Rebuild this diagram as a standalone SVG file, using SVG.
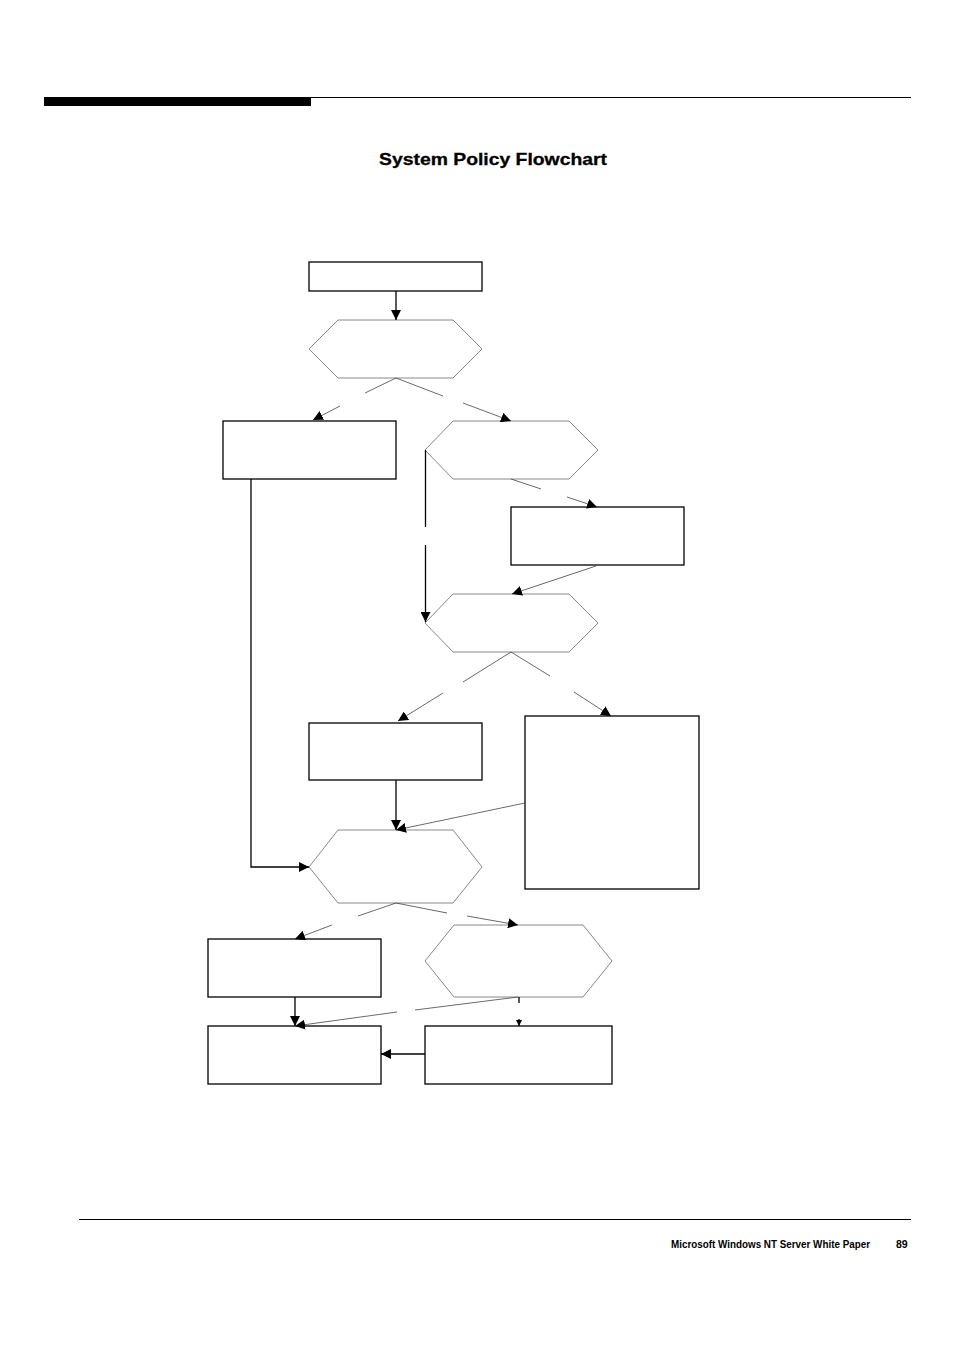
<svg xmlns="http://www.w3.org/2000/svg" width="954" height="1351" viewBox="0 0 954 1351">
<style>
.box{fill:#fff;stroke:#000;stroke-width:1.3}
.hex{fill:#fff;stroke:#888;stroke-width:1}
.c{fill:none;stroke:#000;stroke-width:1.3}
.d{fill:none;stroke:#444;stroke-width:0.8}
text{font-family:"Liberation Sans",Arial,sans-serif;font-weight:bold}
</style>
<defs>
<marker id="a" viewBox="0 0 10 10" refX="10" refY="5" markerWidth="10" markerHeight="10" markerUnits="userSpaceOnUse" orient="auto"><path d="M0,0L10,5L0,10z" fill="#000"/></marker>
<marker id="s" viewBox="0 0 10 10" refX="10" refY="5" markerWidth="6" markerHeight="6" markerUnits="userSpaceOnUse" orient="auto"><path d="M0,0L10,5L0,10z" fill="#000"/></marker>
</defs>
<rect x="44" y="97" width="267" height="9" fill="#000"/>
<line x1="311" y1="97.5" x2="911" y2="97.5" stroke="#000" stroke-width="1"/>
<text x="379" y="165" font-size="16.5" textLength="228" lengthAdjust="spacingAndGlyphs" stroke="#000" stroke-width="0.3">System Policy Flowchart</text>
<line x1="79" y1="1219.5" x2="911" y2="1219.5" stroke="#000" stroke-width="1"/>
<text x="870" y="1248" font-size="10.5" text-anchor="end" textLength="199" lengthAdjust="spacingAndGlyphs">Microsoft Windows NT Server White Paper</text>
<text x="896" y="1248" font-size="10.5">89</text>
<g id="n1"><rect class="box" x="309" y="262" width="173" height="29"/></g>
<g id="n2"><polygon class="hex" points="338,320 453,320 482,349 453,378 338,378 309,349"/></g>
<g id="n3"><rect class="box" x="223" y="421" width="173" height="58"/></g>
<g id="n4"><polygon class="hex" points="453,421 569,421 598,450 569,479 453,479 425,450"/></g>
<g id="n5"><rect class="box" x="511" y="507" width="173" height="58"/></g>
<g id="n6"><polygon class="hex" points="453,594 569,594 598,623 569,652 453,652 425,623"/></g>
<g id="n7"><rect class="box" x="309" y="723" width="173" height="57"/></g>
<g id="n8"><rect class="box" x="525" y="716" width="174" height="173"/></g>
<g id="n9"><polygon class="hex" points="338,830 453,830 482,867 453,903 338,903 309,867"/></g>
<g id="n10"><rect class="box" x="208" y="939" width="173" height="58"/></g>
<g id="n11"><polygon class="hex" points="454,925 583,925 612,961 583,997 454,997 425,961"/></g>
<g id="n12"><rect class="box" x="208" y="1026" width="173" height="58"/></g>
<g id="n13"><rect class="box" x="425" y="1026" width="187" height="58"/></g>
<g id="connectors">
<line class="c" x1="396" y1="291" x2="396" y2="320" marker-end="url(#a)"/>
<polyline class="d" points="365,393 396,378 443,396"/>
<line class="d" x1="340" y1="406" x2="313" y2="420" marker-end="url(#a)"/>
<line class="d" x1="463" y1="403" x2="511" y2="421" marker-end="url(#a)"/>
<line class="c" x1="425.5" y1="450" x2="425.5" y2="527"/>
<line class="c" x1="425.5" y1="545" x2="425.5" y2="622" marker-end="url(#a)"/>
<line class="d" x1="511" y1="479" x2="541" y2="489"/>
<line class="d" x1="567" y1="497" x2="597" y2="507" marker-end="url(#a)"/>
<line class="d" x1="596" y1="566" x2="512" y2="594" marker-end="url(#a)"/>
<polyline class="d" points="463,682 511,652 550,676"/>
<line class="d" x1="443" y1="693" x2="398" y2="721" marker-end="url(#a)"/>
<line class="d" x1="574" y1="692" x2="611" y2="716" marker-end="url(#a)"/>
<line class="c" x1="396" y1="780" x2="396" y2="830" marker-end="url(#a)"/>
<line class="d" x1="525" y1="803" x2="396" y2="830" marker-end="url(#a)"/>
<polyline class="c" points="251,479 251,867 309,867" marker-end="url(#a)"/>
<polyline class="d" points="358,916 396,903 447,913"/>
<line class="d" x1="332" y1="925" x2="295" y2="939" marker-end="url(#a)"/>
<line class="d" x1="467" y1="916" x2="518" y2="925" marker-end="url(#a)"/>
<line class="c" x1="295" y1="997" x2="295" y2="1026" marker-end="url(#a)"/>
<line class="d" x1="518" y1="997" x2="415" y2="1010"/>
<line class="d" x1="397" y1="1012" x2="295" y2="1026" marker-end="url(#a)"/>
<line class="c" x1="519" y1="997" x2="519" y2="1003"/>
<line class="c" x1="519" y1="1019" x2="519" y2="1026" marker-end="url(#s)"/>
<line class="c" x1="425" y1="1054" x2="381" y2="1054" marker-end="url(#a)"/>
</g>
</svg>
